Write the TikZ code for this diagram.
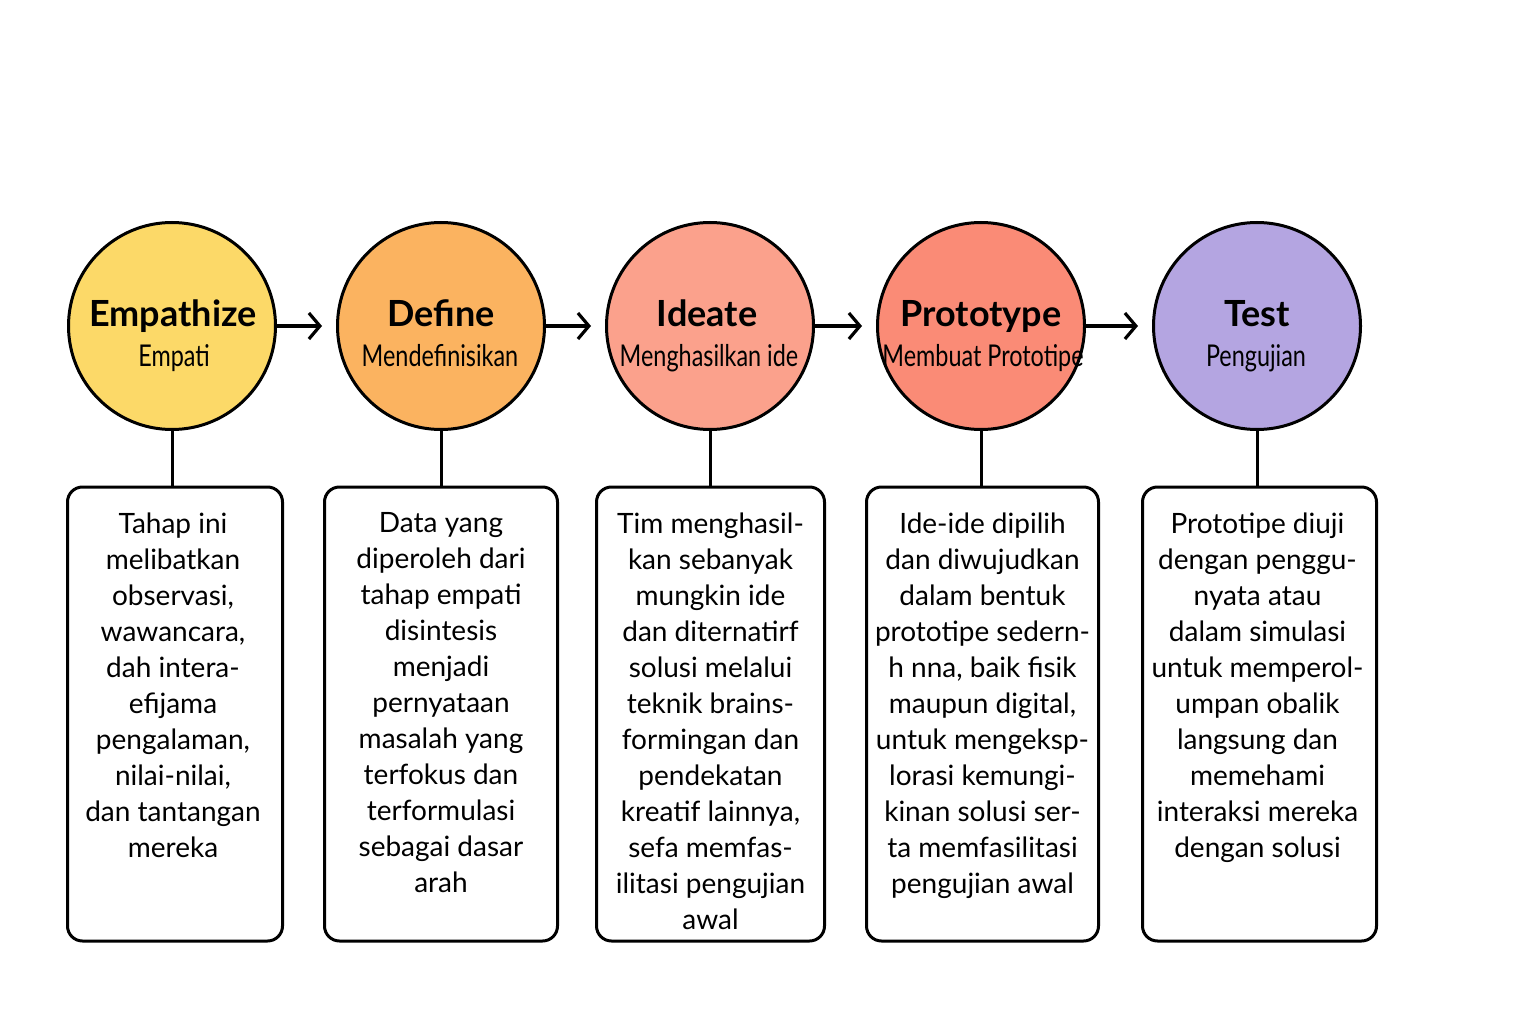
\documentclass[tikz,border=0pt]{standalone}
\usepackage{fontspec}
\setmainfont{Lato}
\newfontfamily\subfont{Lato}[FakeStretch=0.78]
\usepackage{xcolor}
\usetikzlibrary{calc}
\usetikzlibrary{arrows.meta}

\definecolor{empcol}{RGB}{252,217,104}
\definecolor{defcol}{RGB}{251,179,96}
\definecolor{idecol}{RGB}{251,161,140}
\definecolor{procol}{RGB}{250,139,118}
\definecolor{tstcol}{RGB}{180,165,225}

\begin{document}
\begin{tikzpicture}[x=1pt,y=-1pt]

\def\lw{3pt}
\def\lwarr{3.2pt}
\def\cardh{454pt}

\tikzset{
stage/.style = {circle,draw=black,line width=\lw,minimum size=207pt,inner sep=0pt},
title/.style = {anchor=base,inner sep=0pt,font=\fontsize{36}{40}\selectfont\bfseries},
subtitle/.style = {anchor=base,inner sep=0pt,font=\subfont\fontsize{30}{34}\selectfont},
card/.style = {draw=black,line width=\lw,rounded corners=15pt,minimum height=\cardh,inner sep=0pt},
cardtext/.style = {anchor=north,align=center,inner sep=0pt,font=\fontsize{28}{36}\selectfont},
flow/.style = {line width=\lwarr,-{Straight Barb[length=11pt,width=26pt]},shorten >=14pt},
link/.style = {line width=\lw}
}

\useasboundingbox (0,0) rectangle (1536,1024);

%\draw [help lines,step=100] (0,0) grid (1536,1024);

% stages
\node[stage,fill=empcol] (emp) at (172,326) {};
\node[stage,fill=defcol] (def) at (441,326) {};
\node[stage,fill=idecol] (ide) at (710,326) {};
\node[stage,fill=procol] (pro) at (981,326) {};
\node[stage,fill=tstcol] (tst) at (1257,326) {};

\node[title] (empT) at (173,326) {Empathize};
\node[title] (defT) at (441,326) {Define};
\node[title] (ideT) at (707,326) {Ideate};
\node[title] (proT) at (981,326) {Prototype};
\node[title] (tstT) at (1257,326) {Test};

\node[subtitle] (empS) at (174,366) {Empati};
\node[subtitle] (defS) at (440,366) {Mendefinisikan};
\node[subtitle] (ideS) at (709,366) {Menghasilkan ide};
\node[subtitle] (proS) at (983,366) {Membuat Prototipe};
\node[subtitle] (tstS) at (1256,366) {Pengujian};

\draw[flow] (emp) -- (def);
\draw[flow] (def) -- (ide);
\draw[flow] (ide) -- (pro);
\draw[flow] (pro) -- (tst);

% cards
\node[card,minimum width=215pt] (bemp) at (175,714) {};
\node[card,minimum width=233pt] (bdef) at (441,714) {};
\node[card,minimum width=228pt] (bide) at (710.5,714) {};
\node[card,minimum width=232pt] (bpro) at (982.5,714) {};
\node[card,minimum width=234pt] (btst) at (1259.5,714) {};

\draw[link] (emp.south) -- (emp.south |- bemp.north);
\draw[link] (def.south) -- (def.south |- bdef.north);
\draw[link] (ide.south) -- (ide.south |- bide.north);
\draw[link] (pro.south) -- (pro.south |- bpro.north);
\draw[link] (tst.south) -- (tst.south |- btst.north);

\node[cardtext] (temp) at ($(bemp.north)+(-2,27)$) {Tahap ini\\melibatkan\\observasi,\\wawancara,\\dah intera-\\efijama\\pengalaman,\\nilai-nilai,\\dan tantangan\\mereka};
\node[cardtext] (tdef) at ($(bdef.north)+(0,27)$) {Data yang\\diperoleh dari\\tahap empati\\disintesis\\menjadi\\pernyataan\\masalah yang\\terfokus dan\\terformulasi\\sebagai dasar\\arah};
\node[cardtext] (tide) at ($(bide.north)+(0,27)$) {Tim menghasil-\\kan sebanyak\\mungkin ide\\dan diternatirf\\solusi melalui\\teknik brains-\\formingan dan\\pendekatan\\kreatif lainnya,\\sefa memfas-\\ilitasi pengujian\\awal};
\node[cardtext] (tpro) at ($(bpro.north)+(0,27)$) {Ide-ide dipilih\\dan diwujudkan\\dalam bentuk\\prototipe sedern-\\h nna, baik fisik\\maupun digital,\\untuk mengeksp-\\lorasi kemungi-\\kinan solusi ser-\\ta memfasilitasi\\pengujian awal};
\node[cardtext] (ttst) at ($(btst.north)+(-2,27)$) {Prototipe diuji\\dengan penggu-\\nyata atau\\dalam simulasi\\untuk memperol-\\umpan obalik\\langsung dan\\memehami\\interaksi mereka\\dengan solusi};

\end{tikzpicture}
\end{document}
